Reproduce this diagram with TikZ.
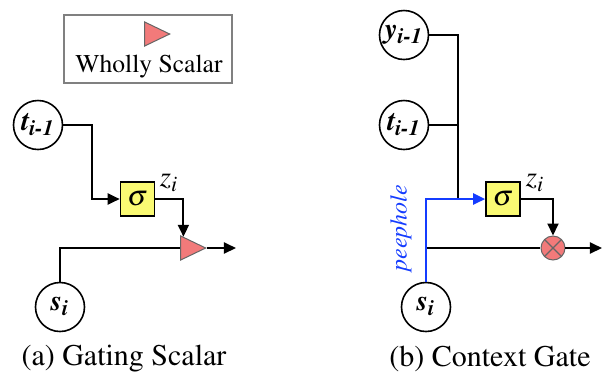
\documentclass[tikz,border=0pt]{standalone}
\usepackage[T1]{fontenc}
\usepackage{mathptmx}
\usetikzlibrary{arrows.meta,positioning,calc,shapes.geometric}

\definecolor{gatered}{RGB}{242,122,122}
\definecolor{sigyellow}{RGB}{250,250,115}
\definecolor{peepblue}{RGB}{20,60,255}
\newcommand{\bvar}[2]{\textbf{\textit{#1}}\textsubscript{\textbf{\textit{#2}}}}

\begin{document}
\begin{tikzpicture}[x=0.5pt, y=-0.5pt, line width=1pt,
  >={Triangle[length=6pt,width=5.5pt]},
  var/.style={circle, draw, line width=0.8pt, minimum size=24.5pt, inner sep=0pt, font=\Large},
  sigbox/.style={draw, fill=sigyellow, line width=0.8pt, minimum size=17pt, inner sep=0pt, font=\Large},
  scal/.style={isosceles triangle, isosceles triangle stretches, draw=black!60, line width=0.5pt,
    fill=gatered, inner sep=0pt, minimum width=12pt, minimum height=12.5pt},
  mult/.style={circle, draw=black!60, line width=0.5pt, fill=gatered, minimum size=12pt, inner sep=0pt,
    path picture={\draw[line width=0.6pt] (path picture bounding box.north west) -- (path picture bounding box.south east)
      (path picture bounding box.north east) -- (path picture bounding box.south west);}},
  peep/.style={draw=peepblue, line width=1.2pt},
  caption/.style={font=\fontsize{15}{18}\selectfont}
]
  \useasboundingbox (0,0) rectangle (602,372);

  % Legend
  \node[draw=black!50, line width=0.8pt, minimum width=84pt, minimum height=34pt] (legend) at (148,49) {};
  \node[scal, anchor=apex] (legtri) at (171,34) {};
  \node[font=\fontsize{12.8}{15}\selectfont] (legtxt) at (149,67) {Wholly Scalar};

  % (a) Gating scalar
  \node[var] (tprev) at (38,125) {\bvar{t}{i-1}};
  \node[var] (src) at (60,307) {\bvar{s}{i}};
  \node[sigbox] (sig) at (137.5,199) {$\sigma$};
  \node[scal, anchor=apex] (gate) at (207,248) {};
  \node[font=\Large] (zl) at (169,183) {$z_i$};
  \coordinate (gtop) at ($(gate.left corner)!0.12!(gate.apex)$);
  \coordinate (aout) at (236,248);

  \draw[->] (tprev.east) -| ([xshift=-14pt]sig.west) -- (sig.west);
  \draw[->] (sig.east) -| (gtop);
  \draw (src.north) |- (gate.lower side);
  \draw[->] (gate.apex) -- (aout);

  \node[caption] (capa) at (124,359) {(a) Gating Scalar};

  % (b) Context gate
  \node[var] (yprev) at (404,35) {\bvar{y}{i-1}};
  \node[var] (tprevb) at (404,125) {\bvar{t}{i-1}};
  \node[var] (srcb) at (426,307) {\bvar{s}{i}};
  \node[sigbox] (sigb) at (503,199) {$\sigma$};
  \node[mult] (mul) at (553,248) {};
  \node[font=\Large] (zr) at (535,183) {$z_i$};
  \coordinate (join) at (458,199);
  \coordinate (bout) at (602,248);

  \draw (yprev.east) -| (join);
  \draw (tprevb.east) -- (tprevb.east -| join);
  \draw (srcb.north |- mul) -- (mul.west);
  \draw[->] (mul.east) -- (bout);
  \draw[peep, ->, peepblue] (srcb.north) |- (sigb.west);
  \draw[->] (sigb.east) -| (mul.north);
  \node[rotate=90, text=peepblue, font=\large\itshape] (peeplbl) at (401,228) {peephole};

  \node[caption] (capb) at (490,359) {(b) Context Gate};
\end{tikzpicture}
\end{document}
